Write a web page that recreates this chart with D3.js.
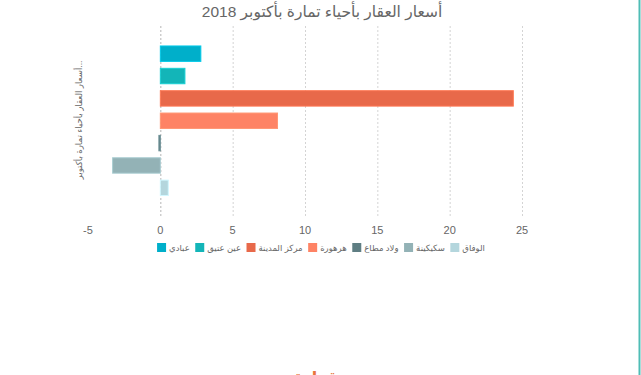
<!DOCTYPE html>
<html>
<head>
<meta charset="utf-8">
<script src="https://cdn.jsdelivr.net/npm/d3@7"></script>
<style>
  body { margin: 0; background: #fff; }
  svg { display: block; font-family: "Liberation Sans", "DejaVu Sans", sans-serif; }
</style>
</head>
<body>
<svg id="chart" width="641" height="375"></svg>
<script>
// data
var districts = ["عبادي", "عين عتيق", "مركز المدينة", "هرهورة", "ولاد مطاع", "سكيكينة", "الوفاق"]
var prices = [2.8, 1.7, 24.4, 8.1, -0.1, -3.3, 0.55]
var colors = ["#00afca", "#13b5b8", "#e8694a", "#fe8365", "#5f7e83", "#93b2b6", "#b4d6dd"]
var xTicks = [-5, 0, 5, 10, 15, 20, 25]
var titleText = "أسعار العقار بأحياء تمارة بأكتوبر 2018"
var axisTitle = "أسعار العقار بأحياء تمارة بأكتوبر..."

var svg = d3.select("#chart")

var x = d3.scaleLinear().domain([-5, 25]).range([88, 522])
var y = d3.scaleBand().domain(districts).range([42.5, 199]).paddingInner(0.31).paddingOuter(0.155)

var plotTop = 26, plotBottom = 218

// grid
svg.append("g").selectAll("line")
    .data(xTicks.filter(function(d) { return d >= 0 }))
    .enter().append("line")
    .attr("x1", function(d) { return x(d) + 0.5 })
    .attr("x2", function(d) { return x(d) + 0.5 })
    .attr("y1", plotTop)
    .attr("y2", plotBottom)
    .attr("stroke", function(d) { return d === 0 ? "#b5b5b5" : "#d4d4d4" })
    .attr("stroke-dasharray", "2,2")

// bars
svg.append("g").selectAll("rect")
    .data(prices)
    .enter().append("rect")
    .attr("x", function(d) { return x(Math.min(0, d)) })
    .attr("y", function(d, i) { return y(districts[i]) })
    .attr("width", function(d) { return Math.abs(x(d) - x(0)) })
    .attr("height", y.bandwidth())
    .attr("fill", function(d, i) { return colors[i] })
    .attr("stroke", function(d, i) { return d3.color(colors[i]).brighter(0.4) })
    .attr("stroke-width", 1)

// x tick labels
svg.append("g").selectAll("text")
    .data(xTicks)
    .enter().append("text")
    .attr("x", function(d) { return x(d) })
    .attr("y", 234)
    .attr("text-anchor", "middle")
    .attr("font-size", 11)
    .attr("fill", "#666")
    .text(function(d) { return d })

// title
svg.append("text")
    .attr("x", 322)
    .attr("y", 17)
    .attr("text-anchor", "middle")
    .attr("font-size", 15.5)
    .attr("fill", "#666")
    .text(titleText)

// y axis title
svg.append("text")
    .attr("transform", "translate(82,120) rotate(-90)")
    .attr("text-anchor", "middle")
    .attr("font-size", 8.6)
    .attr("fill", "#666")
    .text(axisTitle)

// legend, laid out in a row and centred
var legend = svg.append("g").attr("transform", "translate(0,248)")
var items = legend.selectAll("g").data(districts).enter().append("g")
items.append("rect")
    .attr("width", 9).attr("height", 9).attr("y", -5)
    .attr("fill", function(d, i) { return colors[i] })
items.append("text")
    .attr("x", 12).attr("y", 3)
    .attr("font-size", 8.5)
    .attr("fill", "#666")
    .text(function(d) { return d })

var pos = []
var cur = 0
items.each(function() {
    pos.push(cur)
    cur += this.getBBox().width + 5.5
})
var start = 321 - (cur - 5.5) / 2
items.attr("transform", function(d, i) { return "translate(" + (start + pos[i]) + ",0)" })

// page decorations
svg.append("line")
    .attr("x1", 639.5).attr("x2", 639.5).attr("y1", 0).attr("y2", 375)
    .attr("stroke", "#4fbdb6").attr("stroke-width", 2)

svg.append("text")
    .attr("x", 316).attr("y", 383)
    .attr("text-anchor", "middle")
    .attr("font-size", 16)
    .attr("font-weight", "bold")
    .attr("fill", "#e8743b")
    .text("قراءة")
</script>
</body>
</html>
